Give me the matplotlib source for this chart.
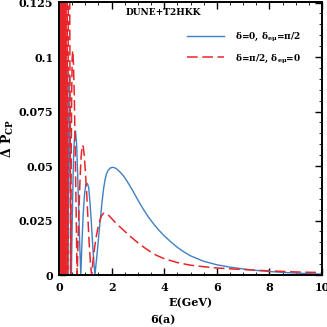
import matplotlib
matplotlib.use("Agg")
import matplotlib.pyplot as plt
from matplotlib.ticker import MultipleLocator

plt.rcParams['font.family'] = ['DejaVu Serif']
plt.rcParams['font.weight'] = 'bold'
plt.rcParams['mathtext.fontset'] = 'dejavuserif'
plt.rcParams['mathtext.default'] = 'bf'

# ---- data ----
blue_E = [0.0507, 0.0517, 0.0529, 0.054, 0.0552, 0.0564, 0.0578, 0.0591, 0.0606, 0.062,
          0.0637, 0.0652, 0.0671, 0.0688, 0.0709, 0.0728, 0.0751, 0.0773, 0.0799, 0.0824,
          0.0853, 0.0883, 0.0915, 0.095, 0.0986, 0.1028, 0.107, 0.112, 0.117, 0.123,
          0.129, 0.1364, 0.144, 0.153, 0.162, 0.1745, 0.187, 0.203, 0.220, 0.242,
          0.268, 0.300, 0.341, 0.395,
          0.47, 0.50, 0.53, 0.56, 0.60, 0.63, 0.67, 0.71, 0.75, 0.79,
          0.83, 0.87, 0.92, 0.97, 1.02, 1.08, 1.13, 1.18, 1.23, 1.28,
          1.33, 1.37, 1.40, 1.45, 1.50, 1.55, 1.60, 1.65, 1.70, 1.75,
          1.80, 1.87, 1.95, 2.04, 2.12, 2.2, 2.3, 2.45, 2.6, 2.8,
          3.0, 3.2, 3.4, 3.6, 3.8, 4.0, 4.25, 4.5, 4.75, 5.0,
          5.5, 6.0, 6.5, 7.0, 7.5, 8.0, 8.5, 9.0, 9.5, 10.0]
blue_P = [0.0, 0.085, 0.0, 0.09, 0.0, 0.088, 0.0, 0.092, 0.0, 0.09,
          0.0, 0.094, 0.0, 0.09, 0.0, 0.095, 0.0, 0.092, 0.0, 0.096,
          0.0, 0.093, 0.0, 0.097, 0.0, 0.095, 0.0, 0.098, 0.0, 0.096,
          0.0, 0.099, 0.0, 0.097, 0.0, 0.1, 0.0, 0.098, 0.0, 0.1,
          0.0, 0.097, 0.0, 0.092,
          0.0, 0.022, 0.042, 0.057, 0.065, 0.066, 0.060, 0.046, 0.030, 0.013,
          0.0, 0.014, 0.028, 0.037, 0.0415, 0.042, 0.040, 0.033, 0.024, 0.014,
          0.005, 0.0, 0.004, 0.010, 0.0165, 0.023, 0.029, 0.035, 0.040, 0.0437,
          0.0462, 0.0481, 0.0491, 0.0494, 0.0492, 0.0486, 0.0475, 0.0455, 0.0428, 0.0388,
          0.0344, 0.0303, 0.0266, 0.0234, 0.0205, 0.0180, 0.0152, 0.0127, 0.0106, 0.0088,
          0.0063, 0.0047, 0.0036, 0.0028, 0.0021, 0.0016, 0.0012, 0.0009, 0.0006, 0.0004]

red_E = [0.0504, 0.0514, 0.0525, 0.0536, 0.0548, 0.056, 0.0573, 0.0587, 0.0601, 0.0615,
         0.0631, 0.0647, 0.0664, 0.0683, 0.0702, 0.0722, 0.0743, 0.0766, 0.079, 0.0816,
         0.0844, 0.0873, 0.0905, 0.0939, 0.0976, 0.1015, 0.106, 0.110, 0.116, 0.121,
         0.127, 0.134, 0.142, 0.150, 0.160, 0.171, 0.183, 0.198, 0.215, 0.235,
         0.260, 0.290, 0.328, 0.376,
         0.44, 0.46, 0.48, 0.50, 0.52, 0.55, 0.58, 0.61, 0.64, 0.67,
         0.69, 0.72, 0.76, 0.80, 0.84, 0.88, 0.92, 0.96, 1.00, 1.05,
         1.10, 1.15, 1.20, 1.24, 1.28, 1.33, 1.40, 1.47, 1.55, 1.62,
         1.69, 1.77, 1.85, 1.95, 2.07, 2.25, 2.45, 2.65, 2.85, 3.08,
         3.3, 3.5, 3.71, 4.0, 4.5, 5.0, 5.5, 6.0, 7.0, 8.0,
         9.0, 10.0]
red_P = [0.0, 0.3, 0.0, 0.3, 0.0, 0.3, 0.0, 0.3, 0.0, 0.3,
         0.0, 0.3, 0.0, 0.3, 0.0, 0.3, 0.0, 0.3, 0.0, 0.3,
         0.0, 0.3, 0.0, 0.3, 0.0, 0.3, 0.0, 0.3, 0.0, 0.3,
         0.0, 0.3, 0.0, 0.3, 0.0, 0.3, 0.0, 0.3, 0.0, 0.3,
         0.0, 0.3, 0.0, 0.25,
         0.0, 0.045, 0.080, 0.099, 0.103, 0.097, 0.083, 0.062, 0.039, 0.014,
         0.0, 0.014, 0.030, 0.044, 0.054, 0.0596, 0.059, 0.055, 0.048, 0.038,
         0.026, 0.014, 0.005, 0.0, 0.005, 0.0105, 0.0165, 0.021, 0.0248, 0.0272,
         0.0283, 0.0284, 0.0278, 0.0266, 0.0250, 0.0228, 0.0206, 0.0184, 0.0163, 0.0140,
         0.0121, 0.0105, 0.0090, 0.0075, 0.0057, 0.0045, 0.0038, 0.0032, 0.0025, 0.0019,
         0.0014, 0.0011]

blue_label = r'δ=0, δ$_{\mathbf{e\mu}}$=π/2'
red_label = r'δ=π/2, δ$_{\mathbf{e\mu}}$=0'

fig = plt.figure(figsize=(3.27, 3.27), dpi=100)
ax = fig.add_axes([59/327, 52/327, 263/327, 273.5/327])

ax.plot(blue_E, blue_P, color='#3f80c4', lw=1.0, label=blue_label)
ax.plot(red_E, red_P, color='#e8262a', lw=1.1, dashes=(7, 3), label=red_label)

ax.set_xlim(0, 10)
ax.set_ylim(0, 0.1255)
ax.xaxis.set_major_locator(MultipleLocator(2))
ax.xaxis.set_minor_locator(MultipleLocator(0.5))
ax.yaxis.set_minor_locator(MultipleLocator(0.005))
ax.set_yticks([0, 0.025, 0.05, 0.075, 0.1, 0.125])
ax.set_yticklabels(['0', '0.025', '0.05', '0.075', '0.1', '0.125'])
ax.tick_params(which='both', direction='in', top=True, right=True, labelsize=8)
ax.tick_params(which='major', length=5, width=1)
ax.tick_params(which='minor', length=2.5, width=0.6)
ax.tick_params(axis='x', pad=5)
ax.tick_params(axis='y', pad=4)
for lab in ax.get_xticklabels() + ax.get_yticklabels():
    lab.set_fontweight('bold')
for sp in ax.spines.values():
    sp.set_linewidth(1.4)

ax.set_xlabel('E(GeV)', fontsize=8, fontweight='bold', labelpad=3)
ax.set_ylabel(r'$\mathbf{\Delta\ P_{CP}}$', fontsize=9)
ax.yaxis.set_label_coords(-0.165, 0.5)
fig.text(163/327, 1 - 320/327, '6(a)', ha='center', va='center',
         fontsize=8, fontweight='bold')

ax.text(0.395, 0.958, 'DUNE+T2HKK', transform=ax.transAxes, ha='center',
        va='center', fontsize=6.5, fontweight='bold')

leg = ax.legend(loc='upper left', bbox_to_anchor=(0.487, 0.895), frameon=False,
                fontsize=6.5, handlelength=4.1, handletextpad=1.2,
                labelspacing=0.95, borderpad=0, borderaxespad=0)

fig.savefig('out.png', dpi=100)
